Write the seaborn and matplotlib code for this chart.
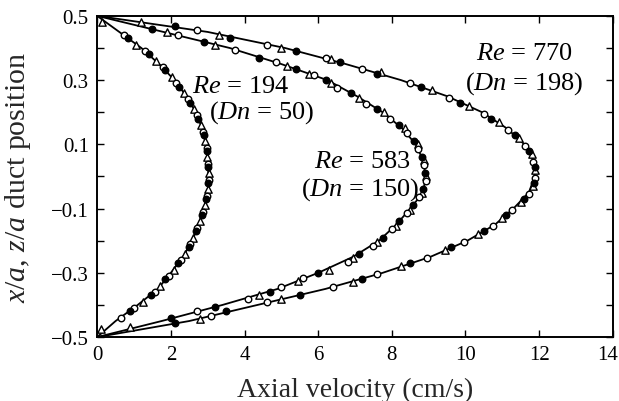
import matplotlib
matplotlib.use("Agg")
import matplotlib.pyplot as plt
import matplotlib.transforms as mtransforms
import seaborn as sns
import pandas as pd

# Duct positions at which the fitted profiles are tabulated
fit_pos = [0.5, 0.45, 0.4, 0.35, 0.3, 0.25, 0.2, 0.15, 0.1, 0.05, 0.0,
           -0.05, -0.1, -0.15, -0.2, -0.25, -0.3, -0.35, -0.4, -0.45, -0.5]

# Fitted axial velocity profiles (cm/s)
fit_re194 = [0.0, 0.6, 1.2, 1.68, 2.1, 2.42, 2.68, 2.85, 2.95, 3.0, 3.02,
             3.0, 2.9, 2.75, 2.58, 2.33, 2.0, 1.65, 1.1, 0.5, 0.0]
fit_re583 = [0.0, 1.8, 3.6, 5.0, 6.25, 7.05, 7.75, 8.28, 8.65, 8.85, 8.92,
             8.85, 8.5, 8.12, 7.65, 6.95, 6.0, 4.9, 3.4, 1.75, 0.0]
fit_re770 = [0.0, 3.0, 5.1, 6.75, 8.25, 9.5, 10.45, 11.12, 11.6, 11.85, 11.88,
             11.72, 11.3, 10.8, 10.05, 9.05, 7.75, 6.2, 4.35, 2.5, 0.0]

# Measured points: (position, velocity)
# Re = 194
re194_filled = [(0.43, 0.85), (0.38, 1.4), (0.33, 1.85), (0.28, 2.22), (0.23, 2.52),
                (0.18, 2.75), (0.13, 2.9), (0.08, 2.98), (0.03, 3.02), (-0.02, 3.02),
                (-0.07, 2.96), (-0.12, 2.85), (-0.17, 2.68), (-0.22, 2.48), (-0.27, 2.2),
                (-0.32, 1.85), (-0.37, 1.45), (-0.42, 0.9)]
re194_open = [(0.44, 0.72), (0.39, 1.3), (0.34, 1.78), (0.29, 2.15), (0.24, 2.47),
              (0.19, 2.72), (0.14, 2.87), (0.09, 2.97), (0.04, 3.0), (-0.01, 3.03),
              (-0.06, 2.98), (-0.11, 2.88), (-0.16, 2.72), (-0.21, 2.52), (-0.26, 2.27),
              (-0.31, 1.95), (-0.36, 1.58), (-0.41, 1.0), (-0.44, 0.65)]
re194_tri = [(0.48, 0.12), (0.41, 1.05), (0.36, 1.6), (0.31, 2.02), (0.26, 2.37),
             (0.21, 2.63), (0.16, 2.82), (0.11, 2.94), (0.06, 2.99), (0.01, 3.03),
             (-0.04, 3.0), (-0.09, 2.92), (-0.14, 2.78), (-0.19, 2.6), (-0.24, 2.38),
             (-0.29, 2.08), (-0.34, 1.7), (-0.39, 1.25), (-0.475, 0.1)]
# Re = 583
re583_filled = [(0.46, 1.5), (0.42, 2.9), (0.37, 4.4), (0.335, 5.4), (0.30, 6.2),
                (0.26, 6.9), (0.21, 7.6), (0.16, 8.2), (0.11, 8.6), (0.06, 8.82),
                (0.01, 8.9), (-0.04, 8.85), (-0.09, 8.58), (-0.14, 8.2), (-0.19, 7.75),
                (-0.24, 7.1), (-0.30, 6.0), (-0.36, 4.7), (-0.405, 3.2), (-0.44, 2.0)]
re583_open = [(0.44, 2.2), (0.395, 3.75), (0.355, 4.85), (0.315, 5.9), (0.275, 6.5),
              (0.225, 7.3), (0.18, 7.95), (0.135, 8.4), (0.085, 8.72), (0.035, 8.88),
              (-0.015, 8.92), (-0.065, 8.75), (-0.115, 8.42), (-0.165, 8.0), (-0.215, 7.5),
              (-0.265, 6.8), (-0.315, 5.6), (-0.345, 5.0), (-0.38, 4.1), (-0.42, 2.7)]
re583_tri = [(0.45, 1.9), (0.41, 3.2), (0.345, 5.15), (0.32, 5.75), (0.29, 6.35),
             (0.245, 7.1), (0.20, 7.8), (0.15, 8.35), (0.10, 8.7), (0.05, 8.87),
             (0.0, 8.93), (-0.05, 8.82), (-0.105, 8.5), (-0.155, 8.1), (-0.205, 7.6),
             (-0.255, 6.95), (-0.29, 6.3), (-0.325, 5.45), (-0.37, 4.4), (-0.47, 0.9)]
# Re = 770
re770_filled = [(0.47, 2.1), (0.43, 3.6), (0.39, 5.4), (0.355, 6.6), (0.32, 7.6),
                (0.28, 8.8), (0.23, 9.85), (0.18, 10.7), (0.13, 11.35), (0.08, 11.72),
                (0.03, 11.88), (-0.02, 11.85), (-0.07, 11.6), (-0.12, 11.1), (-0.17, 10.5),
                (-0.22, 9.6), (-0.27, 8.5), (-0.32, 7.2), (-0.37, 5.5), (-0.42, 3.5),
                (-0.455, 2.1)]
re770_open = [(0.455, 2.7), (0.41, 4.6), (0.37, 6.2), (0.335, 7.2), (0.29, 8.5),
              (0.245, 9.55), (0.195, 10.5), (0.145, 11.15), (0.095, 11.62), (0.045, 11.82),
              (-0.005, 11.9), (-0.055, 11.72), (-0.105, 11.25), (-0.155, 10.75),
              (-0.205, 9.95), (-0.255, 8.95), (-0.305, 7.6), (-0.345, 6.4), (-0.39, 4.6),
              (-0.435, 3.1)]
re770_tri = [(0.48, 1.2), (0.44, 3.3), (0.40, 5.0), (0.365, 6.35), (0.325, 7.7),
             (0.27, 9.1), (0.22, 10.1), (0.17, 10.9), (0.12, 11.45), (0.07, 11.8),
             (0.02, 11.9), (-0.03, 11.82), (-0.08, 11.5), (-0.13, 11.0), (-0.18, 10.35),
             (-0.23, 9.45), (-0.28, 8.25), (-0.33, 6.95), (-0.38, 5.0), (-0.445, 2.8)]

x_ticks = [0, 2, 4, 6, 8, 10, 12, 14]
y_ticks = [0.5, 0.4, 0.3, 0.2, 0.1, 0.0, -0.1, -0.2, -0.3, -0.4, -0.5]
y_labels = ["0.5", "", "0.3", "", "0.1", "", "\u22120.1", "", "\u22120.3", "", "\u22120.5"]

sns.set_theme(style="ticks")
plt.rcParams["font.family"] = ["Liberation Serif", "DejaVu Serif"]
plt.rcParams["mathtext.fontset"] = "custom"
plt.rcParams["mathtext.rm"] = "Liberation Serif"
plt.rcParams["mathtext.it"] = "Liberation Serif:italic"

fit_df = pd.concat([
    pd.DataFrame({"pos": fit_pos, "vel": fit_re194, "case": "194"}),
    pd.DataFrame({"pos": fit_pos, "vel": fit_re583, "case": "583"}),
    pd.DataFrame({"pos": fit_pos, "vel": fit_re770, "case": "770"}),
], ignore_index=True)


def points(groups):
    rows = []
    for grp in groups:
        rows.extend(grp)
    return pd.DataFrame(rows, columns=["pos", "vel"])


filled_df = points([re194_filled, re583_filled, re770_filled])
open_df = points([re194_open, re583_open, re770_open])
tri_df = points([re194_tri, re583_tri, re770_tri])

fig = plt.figure(figsize=(6.19, 4.02), dpi=100)
ax = fig.add_axes([0.157, 0.159, 0.833, 0.799])

for case, sub in fit_df.groupby("case"):
    sns.lineplot(data=sub, x="vel", y="pos", sort=False, estimator=None,
                 color="black", linewidth=1.3, ax=ax)

sns.scatterplot(data=tri_df, x="vel", y="pos", marker="^", s=28,
                facecolor="white", edgecolor="black", linewidth=1.0, ax=ax, zorder=3)
sns.scatterplot(data=open_df, x="vel", y="pos", marker="o", s=22,
                facecolor="white", edgecolor="black", linewidth=1.0, ax=ax, zorder=3)
sns.scatterplot(data=filled_df, x="vel", y="pos", marker="o", s=22,
                facecolor="black", edgecolor="black", linewidth=1.0, ax=ax, zorder=3)

ax.set_xlim(0, 14)
ax.set_ylim(-0.5, 0.5)
ax.set_xticks(x_ticks)
ax.set_xticklabels([str(t) for t in x_ticks])
ax.set_yticks(y_ticks)
ax.set_yticklabels(y_labels)
ax.tick_params(direction="in", length=5, width=1.0, top=True, right=True,
               labelsize=15, colors="black", pad=6)
for spine in ax.spines.values():
    spine.set_visible(True)
    spine.set_linewidth(1.4)
    spine.set_color("black")

# keep the last x tick label inside the figure edge
last_lbl = ax.get_xticklabels()[-1]
last_lbl.set_transform(last_lbl.get_transform()
                       + mtransforms.ScaledTranslation(-0.05, 0, fig.dpi_scale_trans))

ax.set_xlabel("Axial velocity (cm/s)", fontsize=20, labelpad=9)
ax.set_ylabel(r"$x/a$, $z/a$ duct position", fontsize=21.5, labelpad=13)

ann = dict(fontsize=19, ha="center", va="center", color="black")
ax.text(3.9, 0.281, r"$Re$ = 194", **ann)
ax.text(4.45, 0.202, r"($Dn$ = 50)", **ann)
ax.text(7.19, 0.047, r"$Re$ = 583", **ann)
ax.text(7.14, -0.039, r"($Dn$ = 150)", **ann)
ax.text(11.6, 0.384, r"$Re$ = 770", **ann)
ax.text(11.6, 0.291, r"($Dn$ = 198)", **ann)

fig.savefig("out.png", dpi=100)
